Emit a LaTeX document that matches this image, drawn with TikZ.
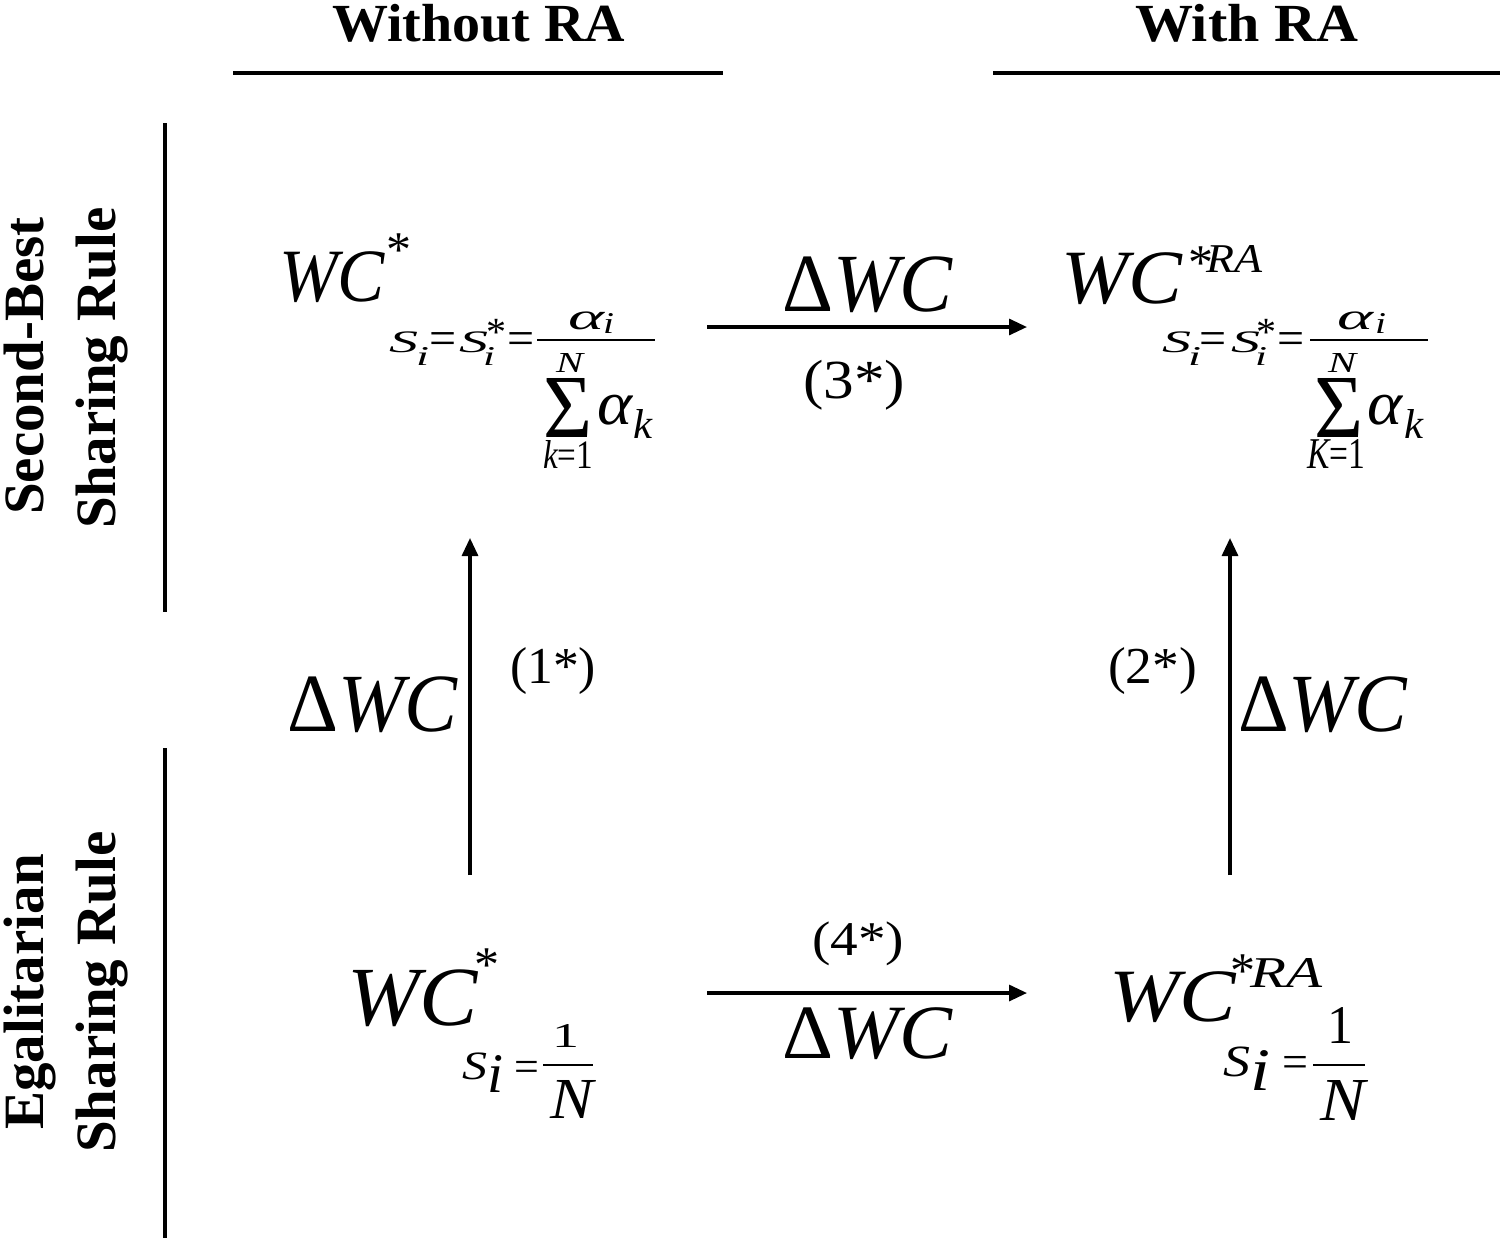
\documentclass[tikz,border=0pt]{standalone}
\usepackage{fontspec}
\setmainfont{Liberation Serif}
\usepackage{graphicx}
\usetikzlibrary{arrows.meta}
\newdimen\pxu \pxu=0.5pt
\newcommand{\gl}[6]{\node[glyph] (#1) at (#2,#3) {\resizebox*{#4\pxu}{#5\pxu}{#6}};}
\newcommand{\sy}[5]{\node[symb,font=\fontsize{#4}{#4}\selectfont] (#1) at (#2,#3) {#5};}
\tikzset{
 glyph/.style={anchor=south west, inner sep=0pt, outer sep=0pt},
 symb/.style={anchor=base west, inner sep=0pt, outer sep=0pt},
 side/.style={rotate=90, anchor=base, inner sep=0pt, font=\fontsize{28.5}{30}\selectfont\bfseries},
 sepline/.style={line width=2pt},
 arr/.style={line width=1.6pt, -{Triangle[length=9pt,width=8pt]}},
 fbar/.style={line width=1pt},
}
\begin{document}
\begin{tikzpicture}[x=0.5pt,y=-0.5pt]
\useasboundingbox (0,0) rectangle (1500,1238);
% headers
\gl{hwo}{332}{42}{293}{38}{\bfseries Without RA}
\gl{hw}{1135}{42}{223}{38}{\bfseries With RA}
\draw[sepline] (233,73) -- (723,73);
\draw[sepline] (993,73) -- (1500,73);
% side labels
\node[side] (sb1) at (43,366) {Second-Best};
\node[side] (sb2) at (115,368) {Sharing Rule};
\node[side] (eg1) at (43,992) {Egalitarian};
\node[side] (eg2) at (115,992) {Sharing Rule};
\draw[sepline] (165,123) -- (165,612);
\draw[sepline] (165,748) -- (165,1238);
% top-left formula
\gl{tlWC}{279}{303}{106}{51}{\itshape WC}
\sy{tlast}{386}{266}{25pt}{*}
\gl{tlS1}{389}{353}{29}{21}{\itshape S}
\gl{tli1}{416}{365}{13}{18}{\itshape i}
\sy{tleq1}{429}{354}{24pt}{=}
\gl{tlS2}{459}{353}{29}{21}{\itshape S}
\gl{tli2}{483}{365}{12}{18}{\itshape i}
\sy{tlast2}{486}{345}{20pt}{*}
\sy{tleq2}{507}{354}{24pt}{=}
\draw[fbar] (537,340) -- (655,340);
\gl{tlal1}{568}{330}{36}{18}{\itshape α}
\gl{tli3}{603}{333}{11}{20}{\itshape i}
\gl{tlN}{556}{372}{27}{19}{\itshape N}
\gl{tlsum}{543}{437}{49}{59}{Σ}
\gl{tlal2}{597}{425}{35}{30}{\itshape α}
\gl{tlk}{633}{438}{19}{29}{\itshape k}
\gl{tlk1}{543}{468}{50}{28}{\itshape k\upshape =1}
% top-right formula
\gl{trWC}{1061}{305}{121}{52}{\itshape WC}
\sy{trast}{1188}{279}{25pt}{*}
\gl{trRA}{1206}{272}{56}{27}{\itshape RA}
\gl{trS1}{1162}{353}{29}{21}{\itshape S}
\gl{tri1}{1188}{365}{13}{18}{\itshape i}
\sy{treq1}{1199}{354}{24pt}{=}
\gl{trS2}{1231}{353}{29}{21}{\itshape S}
\gl{tri2}{1255}{365}{12}{18}{\itshape i}
\sy{trast2}{1256}{345}{20pt}{*}
\sy{treq2}{1277}{354}{24pt}{=}
\draw[fbar] (1310,340) -- (1428,340);
\gl{tral1}{1337}{330}{36}{18}{\itshape α}
\gl{tri3}{1375}{333}{11}{20}{\itshape i}
\gl{trN}{1328}{372}{28}{19}{\itshape N}
\gl{trsum}{1314}{437}{49}{59}{Σ}
\gl{tral2}{1367}{425}{35}{30}{\itshape α}
\gl{trk}{1404}{438}{19}{29}{\itshape k}
\gl{trK1}{1307}{468}{58}{29}{\itshape K\upshape =1}
% bottom-left formula
\gl{blWC}{347}{1027}{131}{57}{\itshape WC}
\sy{blast}{474}{981}{25pt}{*}
\gl{blS}{462}{1080}{25}{27}{\itshape S}
\gl{bli}{487}{1092}{16}{37}{\itshape i}
\sy{bleq}{514}{1081}{22pt}{=}
\gl{blone}{552}{1047}{27}{23}{1}
\draw[fbar] (543,1065) -- (593,1065);
\gl{blN}{550}{1118}{43}{38}{\itshape N}
% bottom-right formula
\gl{brWC}{1109}{1023}{127}{51}{\itshape WC}
\sy{brast}{1230}{987}{25pt}{*}
\gl{brRA}{1250}{987}{72}{29}{\itshape RA}
\gl{brS}{1223}{1077}{27}{30}{\itshape S}
\gl{bri}{1250}{1090}{20}{40}{\itshape i}
\sy{breq}{1282}{1077}{23pt}{=}
\gl{brone}{1327}{1043}{26}{36}{1}
\draw[fbar] (1313,1065) -- (1365,1065);
\gl{brN}{1320}{1120}{45}{40}{\itshape N}
% arrows
\coordinate (a3s) at (707,327); \coordinate (a3e) at (1027,327);
\coordinate (a4s) at (707,993); \coordinate (a4e) at (1027,993);
\coordinate (a1s) at (470,875); \coordinate (a1e) at (470,538);
\coordinate (a2s) at (1230,875); \coordinate (a2e) at (1230,538);
\draw[arr] (a3s) -- (a3e);
\draw[arr] (a4s) -- (a4e);
\draw[arr] (a1s) -- (a1e);
\draw[arr] (a2s) -- (a2e);
% arrow labels
\gl{dwc3}{782}{313}{170}{56}{Δ\itshape WC}
\gl{lab3}{803}{410}{102}{50}{(3*)}
\gl{dwc4}{782}{1060}{170}{52}{Δ\itshape WC}
\gl{lab4}{812}{966}{92}{44}{(4*)}
\gl{dwc1}{287}{733}{170}{56}{Δ\itshape WC}
\gl{lab1}{510}{695}{86}{47}{(1*)}
\gl{lab2}{1108}{695}{89}{47}{(2*)}
\gl{dwc2}{1238}{733}{169}{56}{Δ\itshape WC}
\end{tikzpicture}
\end{document}
